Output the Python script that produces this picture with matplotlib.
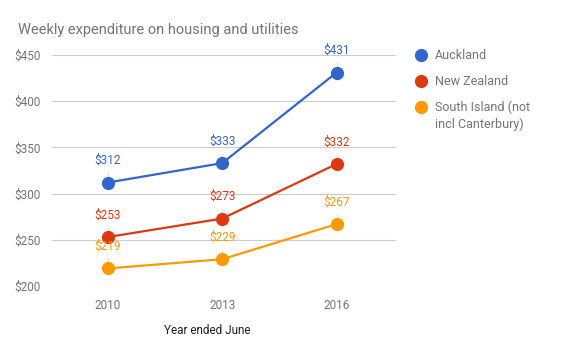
import matplotlib.pyplot as plt
import numpy as np

plt.rcParams['font.family'] = ['Roboto', 'DejaVu Sans']

years = ['2010', '2013', '2016']
auckland = [312, 333, 431]
new_zealand = [253, 273, 332]
south_island = [219, 229, 267]
series_names = ['Auckland', 'New Zealand', 'South Island (not\nincl Canterbury)']
colours = ['#3366cc', '#dc3912', '#ff9900']
y_ticks = [200, 250, 300, 350, 400, 450]

fig = plt.figure(figsize=(5.76, 3.56), dpi=100)
ax = fig.add_axes([0.090, 0.1966, 0.5975, 0.6489])

x = np.arange(len(years))
all_series = [auckland, new_zealand, south_island]

for vals, col in zip(all_series, colours):
    ax.plot(x, vals, color=col, lw=1.6, marker='o', ms=8.5, zorder=3)
    for xi, v in zip(x, vals):
        # thin leader line from label down to the point
        ax.plot([xi, xi], [v, v + 10], color='#e0e0e0', lw=0.8, zorder=1)
        ax.annotate('$' + str(v), (xi, v), xytext=(0, 11), textcoords='offset points',
                    ha='center', va='bottom', color=col, fontsize=8.5, zorder=4)

ax.set_xlim(-0.49, 2.52)
ax.set_ylim(200, 450)
ax.set_xticks(x)
ax.set_xticklabels(years)
ax.set_yticks(y_ticks)
ax.set_yticklabels(['$' + str(t) for t in y_ticks])
ax.grid(axis='y', color='#cccccc', lw=0.8)
ax.set_axisbelow(True)
for s in ax.spines.values():
    s.set_visible(False)
ax.tick_params(length=0, colors='#757575', labelsize=8.5)
ax.tick_params(axis='x', pad=9)
ax.tick_params(axis='y', pad=8)

fig.text(207 / 576, 1 - 330 / 356, 'Year ended June', fontsize=8.5, color='#222222',
         ha='center', va='center')
fig.text(18 / 576, 1 - 30 / 356, 'Weekly expenditure on housing and utilities',
         fontsize=10.5, color='#757575', ha='left', va='center')

# legend
leg_y = [55, 81, 107]
for name, col, ly in zip(series_names, colours, leg_y):
    fig.lines.append(plt.Line2D([421 / 576], [1 - ly / 356], transform=fig.transFigure,
                                marker='o', ms=8.5, color=col, ls=''))
    fig.text(435 / 576, 1 - (ly - 6) / 356, name, fontsize=9, color='#757575',
             ha='left', va='top', linespacing=1.3)

fig.savefig('out.png', dpi=100)
